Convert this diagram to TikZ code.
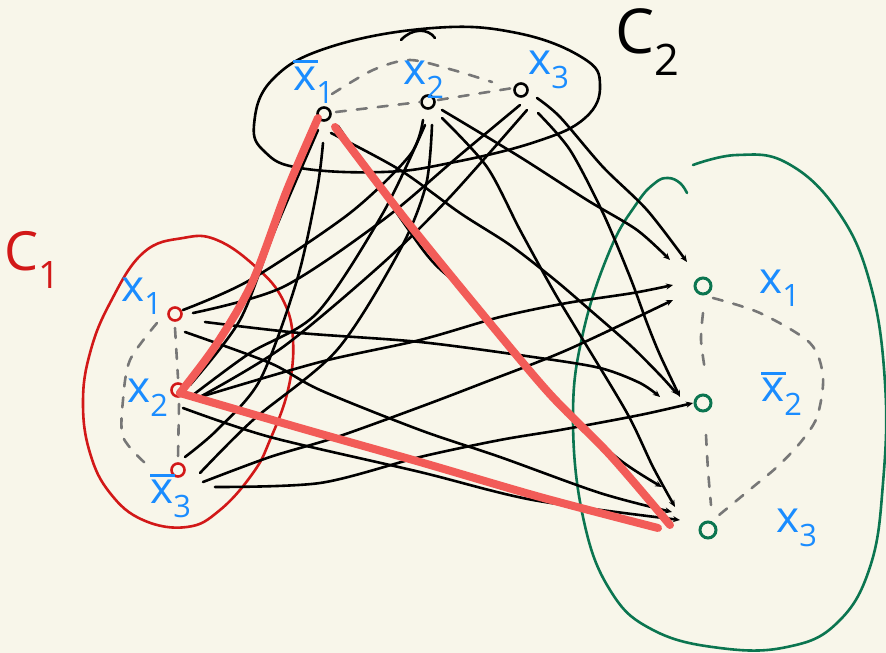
\documentclass[tikz,border=0pt]{standalone}
\usepackage{fontspec}
\setmainfont{Open Sans}
\usetikzlibrary{arrows.meta}

\definecolor{paper}{HTML}{F8F6EA}
\definecolor{pickred}{HTML}{F25C58}
\definecolor{clred}{HTML}{D21818}
\definecolor{clgreen}{HTML}{0B7550}
\definecolor{litblue}{HTML}{1A8CFF}
\definecolor{dashcol}{HTML}{777777}

% negated literal: an x with a bar over it
\newcommand\negx{\makebox[0pt][l]{\raisebox{0.62em}{\rule{0.55em}{2.4pt}}}x}

\tikzset{
  edge/.style={line width=2.6pt, black, line cap=round},
  into/.style={edge, -{Stealth[length=7pt,width=6pt]}},
  pick/.style={line width=8pt, pickred, line cap=round, line join=round},
  link/.style={line width=2.6pt, dashcol, dash pattern=on 10pt off 11pt, line cap=round},
  vtx/.style={circle, draw, inner sep=0pt, minimum size=13pt, line width=2.6pt},
  gvtx/.style={vtx, clgreen, minimum size=16pt, line width=3pt},
  lit/.style={text=litblue, font=\fontsize{44}{44}\selectfont, inner sep=0pt},
  cluster/.style={line width=2.6pt, line cap=round},
}

\begin{document}
\begin{tikzpicture}[x=1pt, y=-1pt]
\fill[paper] (0,0) rectangle (886,653);
\useasboundingbox (0,0) rectangle (886,653);

% ---- clause outlines ----
\draw[cluster, black] plot[smooth cycle, tension=0.7] coordinates {
  (254,125) (272,80) (330,47) (433,28) (517,33) (583,58) (600,85)
  (585,118) (535,142) (450,163) (383,172) (300,168) (265,152)};
\draw[cluster, black] (401,40) .. controls (412,28) and (428,28) .. (435,38);

\draw[cluster, clred] plot[smooth cycle, tension=0.7] coordinates {
  (143,253) (183,238) (217,240) (257,268) (283,300) (293,340) (288,390)
  (270,440) (253,473) (220,510) (187,527) (143,520) (110,493) (90,453)
  (83,403) (90,353) (110,303)};

\draw[cluster, clgreen] plot[smooth, tension=0.7] coordinates {
  (693,165) (737,155) (787,163) (837,210) (870,283) (885,383) (883,483)
  (870,567) (837,623) (787,647) (720,648) (653,630) (610,590) (583,517)
  (573,417) (583,333) (610,250) (637,203) (655,183) (668,178) (680,183) (687,193)};

% ---- vertices ----
\node[vtx] (a1) at (324,114) {};
\node[vtx] (a2) at (428,102) {};
\node[vtx] (a3) at (521,90) {};
\node[vtx, clred] (b1) at (175,314) {};
\node[vtx, clred] (b2) at (178,390) {};
\node[vtx, clred] (b3) at (178,470) {};
\node[gvtx] (g1) at (703,286) {};
\node[gvtx] (g2) at (703,403) {};
\node[gvtx] (g3) at (708,530) {};

% ---- links inside each clause ----
\draw[link] ([shift={(12,-2)}]a1.center) -- ([shift={(-8,0)}]a2.center);
\draw[link] ([shift={(10,-2)}]a2.center) -- ([shift={(-8,-2)}]a3.center);
\draw[link] plot[smooth] coordinates {([shift={(8,-20)}]a1.center) (373,70) (410,60) (453,70) ([shift={(-29,-8)}]a3.center)};

\draw[link] ([shift={(0,14)}]b1.center) -- ([shift={(0,-12)}]b2.center);
\draw[link] ([shift={(1,14)}]b2.center) -- ([shift={(0,-12)}]b3.center);
\draw[link] plot[smooth] coordinates {([shift={(-18,9)}]b1.center) (130,360) (123,400) (123,437) ([shift={(-33,-7)}]b3.center)};

\draw[link] plot[smooth] coordinates {([shift={(0,27)}]g1.center) (701,340) ([shift={(2,-33)}]g2.center)};
\draw[link] plot[smooth] coordinates {([shift={(3,32)}]g2.center) (708,470) ([shift={(3,-25)}]g3.center)};
\draw[link] plot[smooth] coordinates {([shift={(10,12)}]g1.center) (760,313) (810,343) (823,377) (817,417) (800,443) (777,467) (753,487) ([shift={(5,-10)}]g3.center)};

% ---- edges between compatible literals ----
\draw[edge] plot[smooth] coordinates {([shift={(8,-4)}]b1.center) (250,280) (350,213) (410,155) ([shift={(-5,18)}]a2.center)};
\draw[edge] plot[smooth] coordinates {([shift={(18,-1)}]b1.center) (283,287) (383,220) (460,155) ([shift={(-1,15)}]a3.center)};
\draw[edge] plot[smooth] coordinates {([shift={(15,5)}]b2.center) (250,353) (317,313) (383,213) ([shift={(-3,23)}]a2.center)};
\draw[edge] plot[smooth] coordinates {([shift={(20,8)}]b2.center) (283,347) (383,263) (450,197) ([shift={(6,20)}]a3.center)};
\draw[edge] plot[smooth] coordinates {([shift={(22,3)}]b3.center) (253,420) (337,350) (400,250) (426,185) ([shift={(4,23)}]a2.center)};
\draw[edge] plot[smooth] coordinates {([shift={(7,-13)}]b3.center) (217,430) (260,380) (297,280) (317,190) ([shift={(-1,29)}]a1.center)};
\draw[edge] plot[smooth] coordinates {([shift={(12,-5)}]b2.center) (240,320) (275,230) ([shift={(-6,16)}]a1.center)};

\draw[into] plot[smooth] coordinates {([shift={(30,8)}]b1.center) (300,333) (420,342) (533,357) (600,368) (640,383) ([shift={(-43,-6)}]g2.center)};
\draw[into] plot[smooth] coordinates {([shift={(10,18)}]b1.center) (270,363) (320,390) (420,430) (500,457) (600,493) ([shift={(-36,-18)}]g3.center)};
\draw[into] plot[smooth] coordinates {([shift={(22,7)}]b2.center) (320,362) (420,340) (500,317) (567,303) (633,293) ([shift={(-30,-1)}]g1.center)};
\draw[into] plot[smooth] coordinates {([shift={(5,18)}]b2.center) (270,437) (420,472) (533,500) ([shift={(-28,-10)}]g3.center)};
\draw[into] plot[smooth] coordinates {([shift={(25,12)}]b3.center) (270,457) (337,437) (420,407) (483,383) (567,350) ([shift={(-30,14)}]g1.center)};
\draw[into] plot[smooth] coordinates {([shift={(37,17)}]b3.center) (320,483) (420,457) (500,440) (560,430) (640,415) ([shift={(-10,0)}]g2.center)};

\draw[into] plot[smooth] coordinates {([shift={(14,8)}]a2.center) (520,157) (587,200) (637,230) ([shift={(-33,-26)}]g1.center)};
\draw[into] plot[smooth] coordinates {([shift={(16,8)}]a3.center) (560,117) (603,167) (647,210) ([shift={(-16,-24)}]g1.center)};
\draw[into] plot[smooth] coordinates {([shift={(17,23)}]a3.center) (570,150) (603,213) (630,277) (647,323) (660,355) ([shift={(-23,-6)}]g2.center)};
\draw[into] plot[smooth] coordinates {([shift={(7,19)}]a1.center) (400,170) (460,213) (510,245) (555,280) (590,310) (630,345) (660,375) ([shift={(-25,-8)}]g2.center)};
\draw[into] plot[smooth] coordinates {([shift={(14,16)}]a2.center) (487,167) (520,230) (553,290) (577,330) (627,413) (653,467) ([shift={(-33,-23)}]g3.center)};
\draw[into] plot[smooth] coordinates {([shift={(14,12)}]a1.center) (423,250) (460,287) (500,333) (560,407) (620,460) ([shift={(-46,-43)}]g3.center)};

% ---- the chosen triangle ----
\draw[pick] plot[smooth, tension=0.5] coordinates {([shift={(-6,4)}]a1.center) (287,190) (252,283) (216,345) ([shift={(2,3)}]b2.center)};
\draw[pick] plot[smooth, tension=0.5] coordinates {([shift={(2,3)}]b2.center) (300,428) (420,462) (540,497) ([shift={(-50,-2)}]g3.center)};
\draw[pick] plot[smooth, tension=0.5] coordinates {([shift={(11,13)}]a1.center) (402,215) (475,305) (548,392) (610,455) ([shift={(-38,-5)}]g3.center)};

% ---- literal labels ----
\node[lit] (la1) at (314,82) {\negx\textsubscript{1}};
\node[lit] (la2) at (424,80) {x\textsubscript{2}};
\node[lit] (la3) at (549,70) {x\textsubscript{3}};
\node[lit] (lb1) at (142,296) {x\textsubscript{1}};
\node[lit] (lb2) at (148,398) {x\textsubscript{2}};
\node[lit] (lb3) at (171,496) {\negx\textsubscript{3}};
\node[lit] (lg1) at (780,288) {x\textsubscript{1}};
\node[lit] (lg2) at (782,394) {\negx\textsubscript{2}};
\node[lit] (lg3) at (797,528) {x\textsubscript{3}};

% ---- clause names ----
\node[text=clred, font=\fontsize{54}{54}\selectfont, inner sep=0pt] (c1) at (33,260) {C\textsubscript{1}};
\node[text=black, font=\fontsize{62}{62}\selectfont, inner sep=0pt] (c2) at (648,42) {C\textsubscript{2}};
\end{tikzpicture}
\end{document}
